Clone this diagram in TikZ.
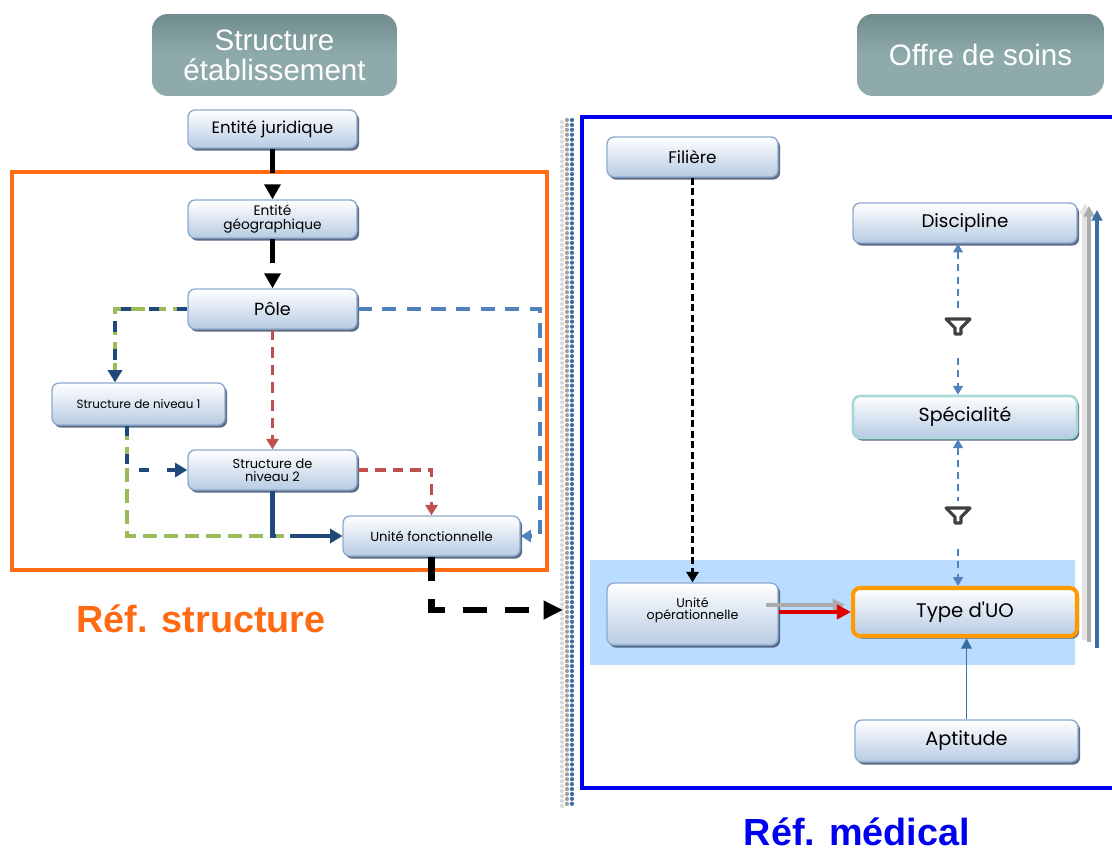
\documentclass[tikz,border=0pt]{standalone}
\usepackage{fontspec}
\setmainfont{Liberation Sans}
\newfontfamily\boxfont{Poppins}
\usetikzlibrary{arrows.meta,shadows,calc,positioning}

\definecolor{boxbot}{HTML}{B7CBE3}
\definecolor{boxline}{HTML}{8EAACF}
\definecolor{boxshadow}{HTML}{4A5C78}
\definecolor{headfill}{HTML}{8FAAAA}
\definecolor{headtop}{HTML}{718C8C}
\definecolor{refor}{HTML}{FF6A13}
\definecolor{refblue}{HTML}{0000F0}
\definecolor{bandblue}{HTML}{B9DCFF}
\definecolor{lnred}{HTML}{C0504D}
\definecolor{lnblue}{HTML}{4F81BD}
\definecolor{lndark}{HTML}{1F497D}
\definecolor{lngreen}{HTML}{9BBB59}
\definecolor{uoorange}{HTML}{FF9900}
\definecolor{specline}{HTML}{A8D8D8}
\definecolor{linkred}{HTML}{E00000}
\definecolor{railblue}{HTML}{3C6EA6}

\tikzset{
  chaintip/.tip={Triangle[width=5.5pt,length=5pt]},
  box/.style={rectangle, rounded corners=4pt, draw=boxline, line width=0.8pt,
    top color=white, bottom color=boxbot, inner sep=1pt, align=center,
    drop shadow={shadow xshift=1.2pt, shadow yshift=-1.5pt, fill=boxshadow, opacity=0.9}},
  head/.style={rectangle, rounded corners=9pt, top color=headtop, bottom color=headfill,
    middle color=headfill, text=white, align=center, font=\fontsize{16.8}{17}\selectfont},
  txt/.style={font=\boxfont\fontsize{#1}{#1}\selectfont},
  reftitle/.style={inner sep=0pt, font=\bfseries\fontsize{21.5}{24}\selectfont},
  blk/.style={line width=3.4pt, dash pattern=on 14pt off 20pt, -{Triangle[width=9pt,length=8.5pt]}},
  blkref/.style={line width=3.8pt, dash pattern=on 14pt off 10pt, -{Triangle[width=10pt,length=11pt]}},
  grn/.style={lngreen, line width=2.6pt, dash pattern=on 8pt off 4pt, -{Triangle[width=8pt,length=7pt]}},
  dkb/.style={lndark, line width=2.6pt, dash pattern=on 6pt off 10pt, -{Triangle[width=8pt,length=7pt]}},
  redd/.style={lnred, line width=1.8pt, dash pattern=on 6pt off 4pt, -{Triangle[width=7pt,length=6pt]}},
  blud/.style={lnblue, line width=2.2pt, dash pattern=on 8pt off 6pt, -{Triangle[width=7pt,length=6pt]}},
  chain/.style={lnblue, line width=1.3pt, dash pattern=on 4pt off 3pt},
  funnel/.style={draw=black!75, line width=1.8pt, fill=white, line join=round},
  rail/.style={line width=2.2pt, -{Triangle[width=6pt,length=6pt]}},
  sep/.style={line width=2.4pt, dash pattern=on 0pt off 2.8pt, line cap=round}
}

\begin{document}
\begin{tikzpicture}[x=0.02cm, y=-0.02cm]
  \clip (0,0) rectangle (1112,852);

  % frames
  \fill[bandblue] (590,560) rectangle (1075,665);
  \draw[refor, line width=1.8pt] (12,172) rectangle (547,570);
  \draw[refblue, line width=1.8pt] (582,117) rectangle (1125,788);
  \draw[sep, gray!30] (562,122) -- (562,806);
  \draw[sep, gray!75] (567,120) -- (567,808);
  \draw[sep, railblue] (572,120) -- (572,808);

  % headers
  \node[head, minimum width=4.9cm, minimum height=1.64cm] (hs) at (274.5,55) {Structure\\établissement};
  \node[head, minimum width=4.94cm, minimum height=1.64cm] (ho) at (980.5,55) {Offre de soins};

  % structure side
  \node[box, txt=9.4, minimum width=3.38cm, minimum height=0.76cm] (ej) at (272.5,129) {Entité juridique};
  \node[box, txt=7.8, minimum width=3.38cm, minimum height=0.76cm] (eg) at (272.5,219) {Entité\\géographique};
  \node[box, txt=10, minimum width=3.38cm, minimum height=0.8cm] (pole) at (272.5,309) {Pôle};
  \node[box, txt=6.8, minimum width=3.46cm, minimum height=0.84cm] (s1) at (138.5,404) {Structure de niveau 1};
  \node[box, txt=7.4, minimum width=3.38cm, minimum height=0.8cm] (s2) at (272.5,470) {Structure de\\niveau 2};
  \node[box, txt=7.5, minimum width=3.54cm, minimum height=0.8cm] (uf) at (431.5,536) {Unité fonctionnelle};
  \node[text=refor, reftitle] (rs) at (201,619) {Réf. structure};

  % medical side
  \node[box, txt=9.6, minimum width=3.42cm, minimum height=0.8cm] (fil) at (692.5,157) {Filière};
  \node[box, txt=10.4, minimum width=4.48cm, minimum height=0.8cm] (disc) at (965,223) {Discipline};
  \node[box, txt=10.8, draw=specline, line width=1.5pt, minimum width=4.48cm, minimum height=0.84cm] (spec) at (965,417) {Spécialité};
  \node[box, txt=7.2, minimum width=3.42cm, minimum height=1.24cm] (uo) at (692.5,614) {Unité\\opérationnelle\\[-1pt]\mbox{}};
  \node[box, txt=11.2, draw=uoorange, line width=2.3pt, minimum width=4.48cm, minimum height=0.96cm] (tuo) at (965,612) {Type d'UO};
  \node[box, txt=11, minimum width=4.46cm, minimum height=0.84cm] (apt) at (966.5,741) {Aptitude};
  \node[text=refblue, reftitle] (rm) at (857,832) {Réf. médical};

  % structure links
  \draw[blk] (ej) -- (eg);
  \draw[blk] (eg) -- (pole);
  \draw[grn] (pole.west) -| ([xshift=-0.47cm]s1.north);
  \draw[dkb] (pole.west) -| ([xshift=-0.47cm]s1.north);
  \draw[redd] (pole) -- (s2);
  \coordinate (pr) at (540,309);
  \draw[blud] (pole.east) -- (pr) |- (uf.east);
  \draw[grn] ([xshift=-0.23cm]s1.south) |- (uf.west);
  \draw[dkb] ([xshift=-0.23cm]s1.south) |- (s2.west);
  \draw[dkb, dash pattern=on 28pt off 8pt] (s2.south) |- (uf.west);
  \draw[redd] (s2.east) -| (uf.north);
  \coordinate (ref) at (563,610);
  \draw[blkref] (uf.south) |- (ref);

  % medical links
  \draw[line width=1.6pt, dash pattern=on 4pt off 2pt, -{Triangle[width=7pt,length=6pt]}] (fil) -- (uo);
  \coordinate (f1) at (958,327);
  \coordinate (f2) at (958,516);
  \draw[chain, {chaintip}-] (disc.south -| f1) -- ($(f1)+(0,-15)$);
  \draw[chain, -{chaintip}] ($(f1)+(0,31)$) -- (spec.north -| f1);
  \draw[chain, {chaintip}-] (spec.south -| f2) -- ($(f2)+(0,-15)$);
  \draw[chain, -{chaintip}] ($(f2)+(0,33)$) -- (tuo.north -| f2);
  \draw[funnel] (f1) ++(-12,-8) -- ++(24,0) -- ++(-9,9) -- ++(0,6) -- ++(-6,0) -- ++(0,-6) -- cycle;
  \draw[funnel] (f2) ++(-12,-8) -- ++(24,0) -- ++(-9,9) -- ++(0,6) -- ++(-6,0) -- ++(0,-6) -- cycle;
  \coordinate (ga) at (766,605);
  \coordinate (gb) at (845,605);
  \draw[gray!65, line width=2.4pt, -{Triangle[width=7pt,length=7pt]}] (ga) -- (gb);
  \draw[linkred, line width=2.4pt, -{Triangle[width=8pt,length=8pt]}] (tuo.west -| uo.east) -- (tuo.west);
  \draw[railblue, line width=1pt, -{Triangle[width=6pt,length=6pt]}] (apt.north) -- (apt.north |- tuo.south);

  % side rails
  \coordinate (g1b) at (1085,640);
  \coordinate (g1t) at (1085,203);
  \coordinate (g2b) at (1089,642);
  \coordinate (g2t) at (1089,206);
  \coordinate (bb) at (1097,648);
  \coordinate (bt) at (1097,210);
  \draw[rail, gray!20, line width=3pt] (g1b) -- (g1t);
  \draw[rail, gray!65] (g2b) -- (g2t);
  \draw[rail, railblue] (bb) -- (bt);
\end{tikzpicture}
\end{document}
